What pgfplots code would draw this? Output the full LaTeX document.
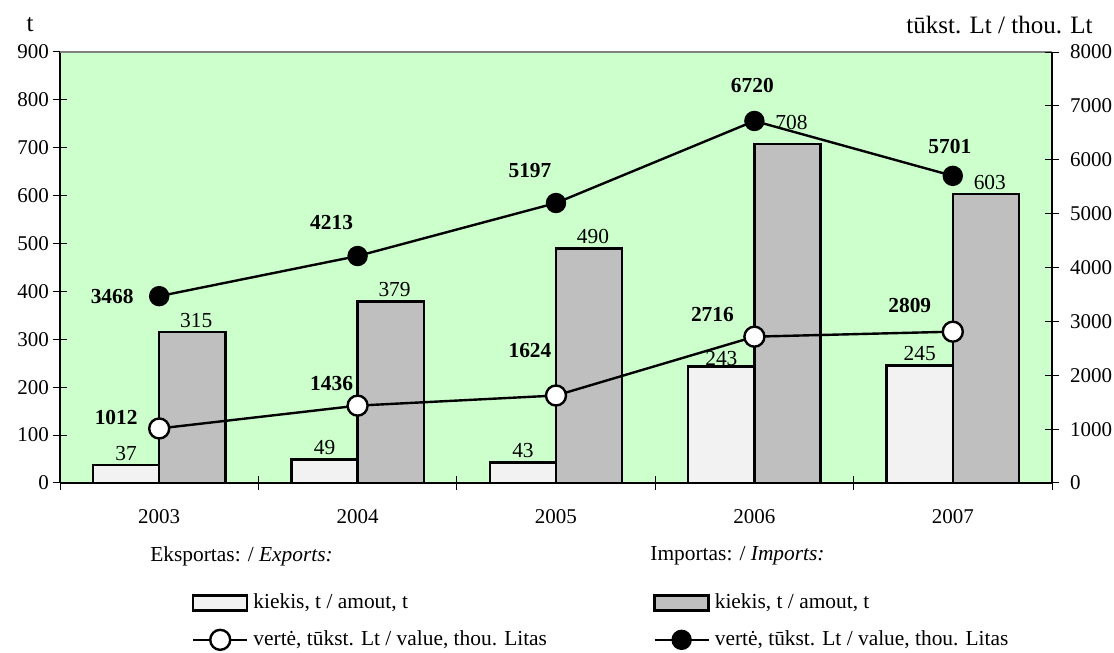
\documentclass[border=0pt]{standalone}
\usepackage{pgfplots}
\pgfplotsset{compat=1.18}
\usepackage{fontspec}
\setmainfont{Liberation Serif}
\definecolor{bg}{HTML}{CCFFCC}
\definecolor{impfill}{HTML}{BFBFBF}
\definecolor{expfill}{HTML}{F2F2F2}
\newcommand\lf{\fontsize{10.7}{12.8}\selectfont}
\pgfplotsset{
  rectlegend/.style={legend image code/.code={\draw[##1] (0pt,-3.75pt) rectangle (27pt,3.75pt);}},
  linelegend/.style={legend image code/.code={\draw[mark repeat=2,mark phase=2,##1] plot coordinates {(0pt,0pt) (13.5pt,0pt) (27pt,0pt)};}},
  common/.style={
    at={(30pt,85pt)}, anchor=south west, scale only axis,
    width=496pt, height=215.5pt, xmin=0, xmax=5,
    major tick length=7pt, tick align=center,
    tick style={black, line width=0.5pt},
    axis line style={black, line width=1pt},
    /pgf/number format/assume math mode=true,
    /pgf/number format/set thousands separator={},
    tick label style={font=\fontsize{10.5}{12.6}\selectfont},
  }
}
\pgfplotstableread{
x y dy
0.5 37 0
1.5 49 0
2.5 43 0
3.5 243 -2
4.5 245 0
}\exports
\pgfplotstableread{
x y dy
0.5 315 0
1.5 379 0
2.5 490 0
3.5 708 4.5
4.5 603 0
}\imports
\begin{document}
\begin{tikzpicture}
\path[use as bounding box] (0,0) rectangle (557pt,326.5pt);
\begin{axis}[common,
  ymin=0, ymax=900, ytick={0,100,...,900},
  axis x line*=bottom, axis y line*=left,
  xtick={0,1,...,5}, xticklabels={2003,2004,2005,2006,2007},
  x tick label as interval,
  xticklabel style={yshift=-6pt},
  yticklabel style={xshift=1.5pt},
  axis background/.style={fill=bg},
  nodes near coords,
  nodes near coords style={font=\lf, text=black},
]
\addplot[ybar, bar width=0.3333, bar shift=-0.16667, fill=expfill, draw=black, line width=1.2pt,
  visualization depends on={\thisrow{dy} \as \dy},
  nodes near coords style={xshift=-16.5pt, yshift=\dy pt-1.5pt}]
  table[x=x, y=y] {\exports};
\addplot[ybar, bar width=0.3333, bar shift=0.16667, fill=impfill, draw=black, line width=1.2pt,
  visualization depends on={\thisrow{dy} \as \dy},
  nodes near coords style={xshift=18.5pt, yshift=\dy pt-1.5pt}]
  table[x=x, y=y] {\imports};
\draw[gray, line width=1pt] (rel axis cs:0,1) -- (rel axis cs:1,1);
\end{axis}
\begin{axis}[common,
  ymin=0, ymax=8000, ytick={0,1000,...,8000},
  axis y line*=right, axis x line=none,
  yticklabel style={xshift=2pt},
  clip=false,
  legend columns=2, transpose legend,
  legend cell align=left,
  legend style={draw=none, fill=none, inner sep=0pt, outer sep=0pt,
    at={(0.1331,-0.2575)}, anchor=north west,
    column sep=0pt, row sep=9pt,
    nodes={inner sep=0pt},
    font=\lf},
]
\addlegendimage{rectlegend, fill=expfill, draw=black, line width=1.2pt}
\addlegendentry{\makebox[202.5pt][l]{\hspace{2.5pt}kiekis, t / amout, t}}
\addplot[black, line width=1.2pt, mark=*, mark size=5pt, mark options={fill=white, draw=black, line width=1.2pt}, linelegend]
  coordinates {(0.5,1012) (1.5,1436) (2.5,1624) (3.5,2716) (4.5,2809)};
\addlegendentry{\makebox[202.5pt][l]{\hspace{2.5pt}vertė, tūkst. Lt / value, thou. Litas}}
\addlegendimage{rectlegend, fill=impfill, draw=black, line width=1.2pt}
\addlegendentry{\hspace{2.5pt}kiekis, t / amout, t}
\addplot[black, line width=1.2pt, mark=*, mark size=4.5pt, mark options={fill=black}, linelegend]
  coordinates {(0.5,3468) (1.5,4213) (2.5,5197) (3.5,6720) (4.5,5701)};
\addlegendentry{\hspace{2.5pt}vertė, tūkst. Lt / value, thou. Litas}
% value labels
\begin{scope}[font=\bfseries\lf]
\node[xshift=-23.5pt] at (axis cs:0.5,3468) {3468};
\node[xshift=-13pt, yshift=17pt] at (axis cs:1.5,4213) {4213};
\node[xshift=-13pt, yshift=16pt] at (axis cs:2.5,5197) {5197};
\node[xshift=-1pt, yshift=17.5pt] at (axis cs:3.5,6720) {6720};
\node[xshift=-1.5pt, yshift=14.5pt] at (axis cs:4.5,5701) {5701};
\node[xshift=-21.5pt, yshift=5.5pt] at (axis cs:0.5,1012) {1012};
\node[xshift=-13pt, yshift=11pt] at (axis cs:1.5,1436) {1436};
\node[xshift=-13pt, yshift=22.5pt] at (axis cs:2.5,1624) {1624};
\node[xshift=-21pt, yshift=11pt] at (axis cs:3.5,2716) {2716};
\node[xshift=-21.5pt, yshift=13pt] at (axis cs:4.5,2809) {2809};
\end{scope}
\begin{scope}[font=\lf, inner sep=0pt]
\node[anchor=west] at (axis description cs:0.0907,-0.1694) {Eksportas: / \textit{Exports:}};
\node[anchor=west] at (axis description cs:0.5948,-0.1694) {Importas: / \textit{Imports:}};
\end{scope}
\begin{scope}[font=\fontsize{12.5}{15}\selectfont, inner sep=0pt]
\node at (axis description cs:-0.0302,1.0626) {t};
\node[anchor=east] at (axis description cs:1.0413,1.0626) {tūkst. Lt / thou. Lt};
\end{scope}
\end{axis}
\end{tikzpicture}
\end{document}
